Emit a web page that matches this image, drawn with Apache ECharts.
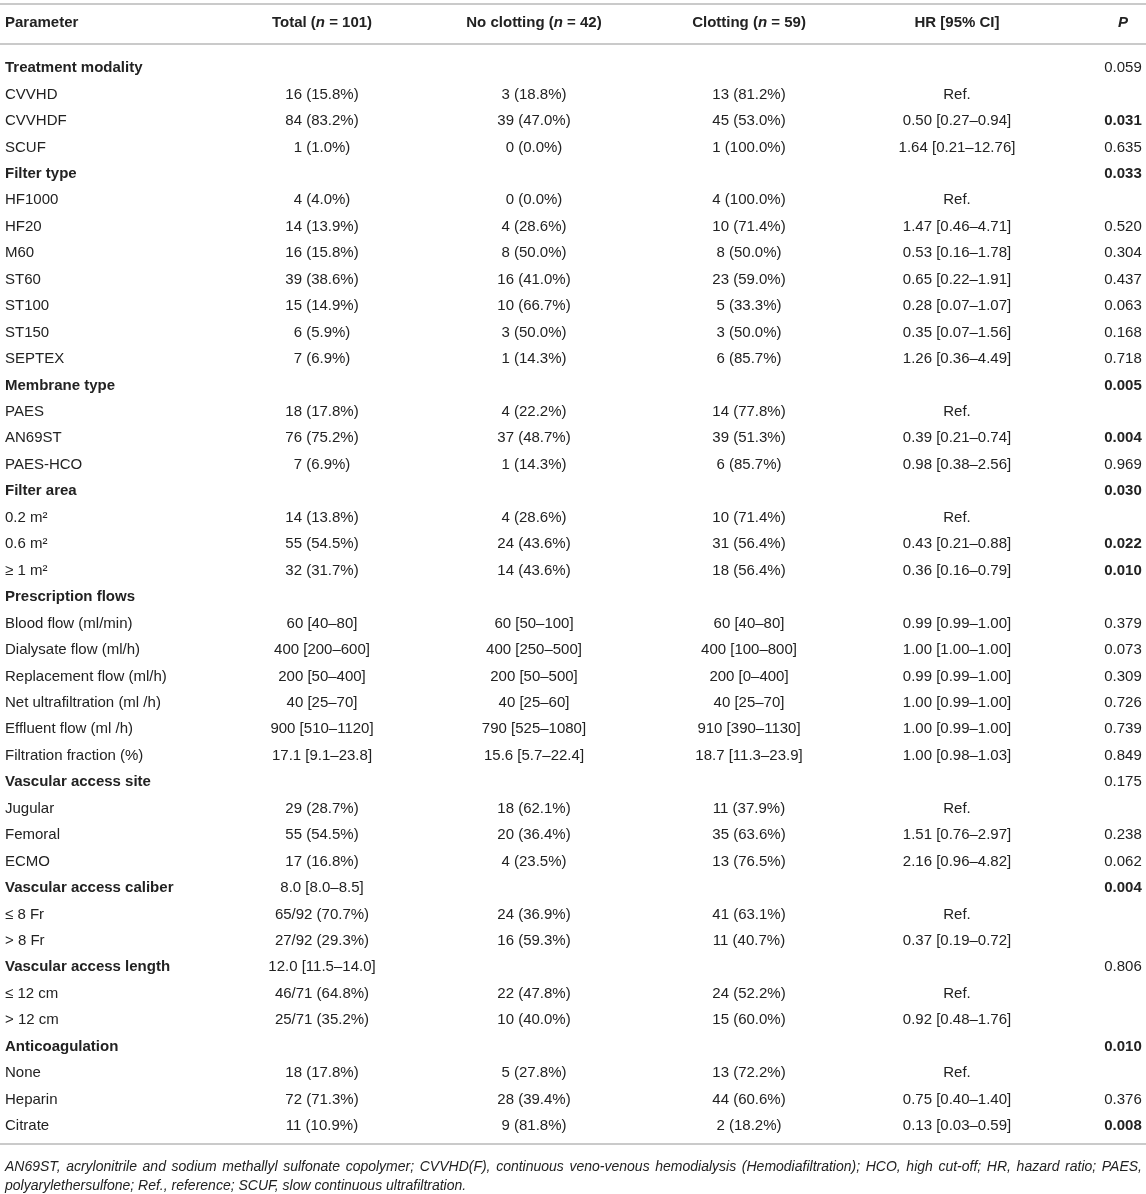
<!DOCTYPE html>
<html>
<head>
<meta charset="utf-8">
<script src="https://cdn.jsdelivr.net/npm/echarts@6/dist/echarts.min.js"></script>
<style>
  html, body { margin: 0; padding: 0; background: #fff; }
  #container { width: 1146px; height: 1194px; }
</style>
</head>
<body>
<div id="container"></div>
<script>
var headers = [
  '{h|Parameter}',
  '{h|Total (}{hi|n}{h| = 101)}',
  '{h|No clotting (}{hi|n}{h| = 42)}',
  '{h|Clotting (}{hi|n}{h| = 59)}',
  '{h|HR [95% CI]}',
  '{hi|P}'
]

var params = [
  'Treatment modality', 'CVVHD', 'CVVHDF', 'SCUF',
  'Filter type', 'HF1000', 'HF20', 'M60', 'ST60', 'ST100', 'ST150', 'SEPTEX',
  'Membrane type', 'PAES', 'AN69ST', 'PAES-HCO',
  'Filter area', '0.2 m²', '0.6 m²', '≥ 1 m²',
  'Prescription flows', 'Blood flow (ml/min)', 'Dialysate flow (ml/h)', 'Replacement flow (ml/h)',
  'Net ultrafiltration (ml /h)', 'Effluent flow (ml /h)', 'Filtration fraction (%)',
  'Vascular access site', 'Jugular', 'Femoral', 'ECMO',
  'Vascular access caliber', '≤ 8 Fr', '> 8 Fr',
  'Vascular access length', '≤ 12 cm', '> 12 cm',
  'Anticoagulation', 'None', 'Heparin', 'Citrate'
]

var groupRows = [
  'Treatment modality', 'Filter type', 'Membrane type', 'Filter area', 'Prescription flows',
  'Vascular access site', 'Vascular access caliber', 'Vascular access length', 'Anticoagulation'
]

var totals = [
  '', '16 (15.8%)', '84 (83.2%)', '1 (1.0%)',
  '', '4 (4.0%)', '14 (13.9%)', '16 (15.8%)', '39 (38.6%)', '15 (14.9%)', '6 (5.9%)', '7 (6.9%)',
  '', '18 (17.8%)', '76 (75.2%)', '7 (6.9%)',
  '', '14 (13.8%)', '55 (54.5%)', '32 (31.7%)',
  '', '60 [40–80]', '400 [200–600]', '200 [50–400]', '40 [25–70]', '900 [510–1120]', '17.1 [9.1–23.8]',
  '', '29 (28.7%)', '55 (54.5%)', '17 (16.8%)',
  '8.0 [8.0–8.5]', '65/92 (70.7%)', '27/92 (29.3%)',
  '12.0 [11.5–14.0]', '46/71 (64.8%)', '25/71 (35.2%)',
  '', '18 (17.8%)', '72 (71.3%)', '11 (10.9%)'
]

var noClotting = [
  '', '3 (18.8%)', '39 (47.0%)', '0 (0.0%)',
  '', '0 (0.0%)', '4 (28.6%)', '8 (50.0%)', '16 (41.0%)', '10 (66.7%)', '3 (50.0%)', '1 (14.3%)',
  '', '4 (22.2%)', '37 (48.7%)', '1 (14.3%)',
  '', '4 (28.6%)', '24 (43.6%)', '14 (43.6%)',
  '', '60 [50–100]', '400 [250–500]', '200 [50–500]', '40 [25–60]', '790 [525–1080]', '15.6 [5.7–22.4]',
  '', '18 (62.1%)', '20 (36.4%)', '4 (23.5%)',
  '', '24 (36.9%)', '16 (59.3%)',
  '', '22 (47.8%)', '10 (40.0%)',
  '', '5 (27.8%)', '28 (39.4%)', '9 (81.8%)'
]

var clotting = [
  '', '13 (81.2%)', '45 (53.0%)', '1 (100.0%)',
  '', '4 (100.0%)', '10 (71.4%)', '8 (50.0%)', '23 (59.0%)', '5 (33.3%)', '3 (50.0%)', '6 (85.7%)',
  '', '14 (77.8%)', '39 (51.3%)', '6 (85.7%)',
  '', '10 (71.4%)', '31 (56.4%)', '18 (56.4%)',
  '', '60 [40–80]', '400 [100–800]', '200 [0–400]', '40 [25–70]', '910 [390–1130]', '18.7 [11.3–23.9]',
  '', '11 (37.9%)', '35 (63.6%)', '13 (76.5%)',
  '', '41 (63.1%)', '11 (40.7%)',
  '', '24 (52.2%)', '15 (60.0%)',
  '', '13 (72.2%)', '44 (60.6%)', '2 (18.2%)'
]

var hazardRatios = [
  '', 'Ref.', '0.50 [0.27–0.94]', '1.64 [0.21–12.76]',
  '', 'Ref.', '1.47 [0.46–4.71]', '0.53 [0.16–1.78]', '0.65 [0.22–1.91]', '0.28 [0.07–1.07]', '0.35 [0.07–1.56]', '1.26 [0.36–4.49]',
  '', 'Ref.', '0.39 [0.21–0.74]', '0.98 [0.38–2.56]',
  '', 'Ref.', '0.43 [0.21–0.88]', '0.36 [0.16–0.79]',
  '', '0.99 [0.99–1.00]', '1.00 [1.00–1.00]', '0.99 [0.99–1.00]', '1.00 [0.99–1.00]', '1.00 [0.99–1.00]', '1.00 [0.98–1.03]',
  '', 'Ref.', '1.51 [0.76–2.97]', '2.16 [0.96–4.82]',
  '', 'Ref.', '0.37 [0.19–0.72]',
  '', 'Ref.', '0.92 [0.48–1.76]',
  '', 'Ref.', '0.75 [0.40–1.40]', '0.13 [0.03–0.59]'
]

var pValues = [
  '0.059', '', '0.031', '0.635',
  '0.033', '', '0.520', '0.304', '0.437', '0.063', '0.168', '0.718',
  '0.005', '', '0.004', '0.969',
  '0.030', '', '0.022', '0.010',
  '', '0.379', '0.073', '0.309', '0.726', '0.739', '0.849',
  '0.175', '', '0.238', '0.062',
  '0.004', '', '',
  '0.806', '', '',
  '0.010', '', '0.376', '0.008'
]

var footLines = [
  'AN69ST, acrylonitrile and sodium methallyl sulfonate copolymer; CVVHD(F), continuous veno-venous hemodialysis (Hemodiafiltration); HCO, high cut-off; HR, hazard ratio; PAES,',
  'polyarylethersulfone; Ref., reference; SCUF, slow continuous ultrafiltration.'
]

// layout
var W = 1146
var colX = [5, 322, 534, 749, 957, 1123]
var colAlign = ['left', 'center', 'center', 'center', 'center', 'center']
var FONT = '"Liberation Sans", Arial, Helvetica, sans-serif'
var TEXT = '#222'
var RULE = '#b8b8b8'
var rowTop = 54.8, rowH = 26.45
var footSize = 14

var columns = [params, totals, noClotting, clotting, hazardRatios, pValues]
var cells = []
params.forEach(function (p, r) {
  columns.forEach(function (col, c) {
    if (col[r] !== '') cells.push([c, r, col[r]])
  })
})

function isBold(c, r, text) {
  if (c === 0) return groupRows.indexOf(text) >= 0
  if (c === 5) return parseFloat(text) < 0.05
  return false
}

// justified first footnote line, word by word
var ctx = document.createElement('canvas').getContext('2d')
ctx.font = 'italic ' + footSize + 'px ' + FONT
function justifiedLine(line, x0, x1, y) {
  var words = line.split(' ')
  var widths = words.map(function (w) { return ctx.measureText(w).width })
  var sum = widths.reduce(function (a, b) { return a + b }, 0)
  var gap = (x1 - x0 - sum) / (words.length - 1)
  var x = x0
  return words.map(function (w, i) {
    var el = {
      type: 'text', x: x, y: y,
      style: { text: w, fontFamily: FONT, fontSize: footSize, fontStyle: 'italic', fill: TEXT, verticalAlign: 'middle' }
    }
    x += widths[i] + gap
    return el
  })
}

var dom = document.getElementById('container')
var myChart = echarts.init(dom)

var headerGraphics = headers.map(function (h, c) {
  return {
    type: 'text',
    x: colX[c],
    y: 23,
    style: {
      text: h,
      align: colAlign[c],
      verticalAlign: 'middle',
      rich: {
        h: { fontFamily: FONT, fontSize: 15, fontWeight: 'bold', fill: TEXT },
        hi: { fontFamily: FONT, fontSize: 15, fontWeight: 'bold', fontStyle: 'italic', fill: TEXT }
      }
    }
  }
})

var option = {
  backgroundColor: '#fff',
  animation: false,
  grid: {
    left: 0,
    right: 0,
    top: rowTop,
    height: rowH * params.length
  },
  xAxis: {
    type: 'value',
    min: 0,
    max: W,
    show: false
  },
  yAxis: {
    type: 'category',
    inverse: true,
    data: params,
    show: false
  },
  graphic: headerGraphics.concat([
    { type: 'line', shape: { x1: 0, y1: 4, x2: W, y2: 4 }, style: { stroke: RULE, lineWidth: 1.5 } },
    { type: 'line', shape: { x1: 0, y1: 44, x2: W, y2: 44 }, style: { stroke: RULE, lineWidth: 1.5 } },
    { type: 'line', shape: { x1: 0, y1: 1144, x2: W, y2: 1144 }, style: { stroke: RULE, lineWidth: 1.5 } },
    {
      type: 'text',
      x: 5,
      y: 1186,
      style: {
        text: footLines[1],
        fontFamily: FONT,
        fontSize: footSize,
        fontStyle: 'italic',
        fill: TEXT,
        verticalAlign: 'middle'
      }
    }
  ]).concat(justifiedLine(footLines[0], 5, 1142, 1167)),
  series: [{
    type: 'custom',
    data: cells,
    renderItem: function (params, api) {
      var c = api.value(0)
      var r = api.value(1)
      var text = cells[params.dataIndex][2]
      var pt = api.coord([colX[c], r])
      return {
        type: 'text',
        x: pt[0],
        y: pt[1],
        style: {
          text: text,
          fontFamily: FONT,
          fontSize: 15,
          fontWeight: isBold(c, r, text) ? 'bold' : 'normal',
          fill: TEXT,
          align: colAlign[c],
          verticalAlign: 'middle'
        }
      }
    }
  }]
}

myChart.setOption(option)
</script>
</body>
</html>
